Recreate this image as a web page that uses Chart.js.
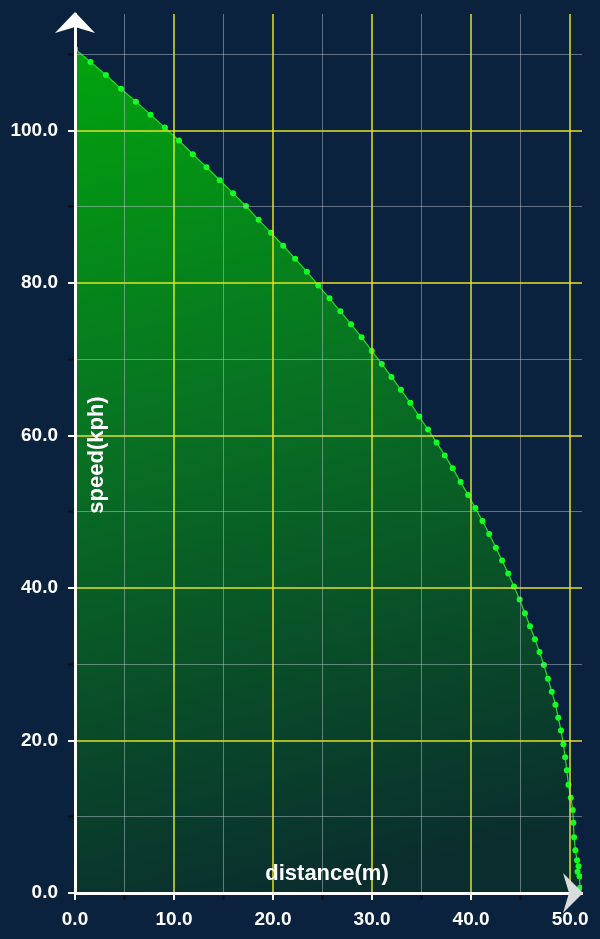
<!DOCTYPE html>
<html>
<head>
<meta charset="utf-8">
<script src="https://cdn.jsdelivr.net/npm/chart.js@4/dist/chart.umd.min.js"></script>
<style>
body{margin:0;background:#0b223f;}
canvas{display:block;}
</style>
</head>
<body>
<canvas id="chart" width="600" height="939"></canvas>
<script>
// speed vs braking distance
const distance = [0, 1.57, 3.12, 4.65, 6.15, 7.63, 9.08, 10.50, 11.90, 13.28, 14.63, 15.96, 17.27, 18.54, 19.80, 21.03, 22.23, 23.41, 24.57, 25.70, 26.80, 27.88, 28.94, 29.97, 30.98, 31.96, 32.92, 33.86, 34.76, 35.65, 36.51, 37.34, 38.15, 38.94, 39.70, 40.43, 41.15, 41.83, 42.50, 43.13, 43.75, 44.33, 44.90, 45.44, 45.95, 46.44, 46.91, 47.35, 47.76, 48.15, 48.52, 48.80, 49.08, 49.32, 49.50, 49.67, 49.83, 50.07, 50.27, 50.33, 50.40, 50.53, 50.70, 50.85, 50.75, 50.95, 51.0];
const speed = [110.7, 109.0, 107.3, 105.5, 103.8, 102.1, 100.4, 98.7, 96.9, 95.2, 93.5, 91.8, 90.1, 88.3, 86.6, 84.9, 83.2, 81.5, 79.7, 78.0, 76.3, 74.6, 72.9, 71.1, 69.4, 67.7, 66.0, 64.3, 62.5, 60.8, 59.1, 57.4, 55.7, 53.9, 52.2, 50.5, 48.8, 47.1, 45.3, 43.6, 41.9, 40.2, 38.5, 36.7, 35.0, 33.3, 31.6, 29.9, 28.1, 26.4, 24.7, 23.0, 21.3, 19.5, 17.8, 16.1, 14.2, 12.5, 10.9, 9.2, 7.3, 5.6, 4.3, 3.5, 2.8, 2.2, 0.7];

const xTickValues = [0, 5, 10, 15, 20, 25, 30, 35, 40, 45, 50];
const xMajorTicks = [0, 10, 20, 30, 40, 50];
const yTickValues = [0, 10, 20, 30, 40, 50, 60, 70, 80, 90, 100, 110];
const yMajorTicks = [0, 20, 40, 60, 80, 100];
const xTitle = "distance(m)";
const yTitle = "speed(kph)";

const font = "'Liberation Sans', Arial, Helvetica, sans-serif";
const yellow = "rgba(225,225,40,0.75)";
const minor = "rgba(200,210,220,0.45)";

const points = distance.map((d,i)=>({x:d, y:speed[i]}));

const arrows = {
  id:"arrows",
  afterDraw(chart){
    const c = chart.ctx;
    const a = chart.chartArea;
    c.save();
    // y arrow
    c.fillStyle = "#ffffff";
    c.beginPath();
    c.moveTo(a.left, a.top-2);
    c.lineTo(a.left+20, a.top+19);
    c.lineTo(a.left, a.top+13);
    c.lineTo(a.left-20, a.top+19);
    c.closePath();
    c.fill();
    // x arrow
    c.fillStyle = "#d8dcdc";
    c.beginPath();
    c.moveTo(a.right+1, a.bottom);
    c.lineTo(a.right-19, a.bottom-20);
    c.lineTo(a.right-13, a.bottom);
    c.lineTo(a.right-19, a.bottom+20);
    c.closePath();
    c.fill();
    // titles
    c.fillStyle = "#ffffff";
    c.font = "bold 22px " + font;
    c.textAlign = "center";
    c.textBaseline = "middle";
    c.fillText(xTitle, a.left+252, a.bottom-19);
    c.translate(a.left+22, a.top+441);
    c.rotate(-Math.PI/2);
    c.fillText(yTitle, 0, 0);
    c.restore();
  }
};

new Chart(document.getElementById("chart"),{
  type:"line",
  data:{
    datasets:[{
      data:points,
      borderColor:"#22dd22",
      borderWidth:1.2,
      pointRadius:3,
      pointBackgroundColor:"#11ff22",
      pointBorderWidth:0,
      fill:"origin",
      backgroundColor:(ctx)=>{
        const a = ctx.chart.chartArea;
        if(!a) return "rgba(0,160,0,0.8)";
        const g = ctx.chart.ctx.createLinearGradient(a.left, a.top, a.left+(a.right-a.left)*0.45, a.bottom);
        g.addColorStop(0, "#00a80c");
        g.addColorStop(0.45, "#087322");
        g.addColorStop(1, "#0a2e2e");
        return g;
      },
      tension:0
    }]
  },
  options:{
    responsive:false,
    animation:false,
    layout:{padding:{top:14, right:18, left:0, bottom:0}},
    plugins:{legend:{display:false}, tooltip:{enabled:false}},
    scales:{
      x:{
        type:"linear",
        min:0, max:51.2,
        afterBuildTicks:(s)=>{ s.ticks = xTickValues.map(v=>({value:v})); },
        afterFit:(s)=>{ s.height = 46; s.paddingLeft = 0; s.paddingRight = 0; },
        border:{color:"#ffffff", width:3, z:2},
        grid:{
          z:1,
          color:(c)=> c.tick.value===0 ? "rgba(0,0,0,0)" : (xMajorTicks.includes(c.tick.value) ? yellow : minor),
          lineWidth:(c)=> xMajorTicks.includes(c.tick.value) ? 2 : 1,
          tickColor:(c)=> xMajorTicks.includes(c.tick.value) ? "#ffffff" : "#0a0f18",
          tickLength:7,
          tickWidth:2
        },
        ticks:{
          color:"#ffffff",
          padding:8,
          maxRotation:0,
          autoSkip:false,
          font:{family:font, size:19, weight:"bold"},
          callback:(v)=> xMajorTicks.includes(v) ? v.toFixed(1) : ""
        }
      },
      y:{
        min:0, max:115.3,
        afterBuildTicks:(s)=>{ s.ticks = yTickValues.map(v=>({value:v})); },
        afterFit:(s)=>{ s.width = 75; s.paddingTop = 0; s.paddingBottom = 0; },
        border:{color:"#ffffff", width:3, z:2},
        grid:{
          z:1,
          color:(c)=> c.tick.value===0 ? "rgba(0,0,0,0)" : (yMajorTicks.includes(c.tick.value) ? yellow : minor),
          lineWidth:(c)=> yMajorTicks.includes(c.tick.value) ? 2 : 1,
          tickColor:(c)=> yMajorTicks.includes(c.tick.value) ? "#ffffff" : "#0a0f18",
          tickLength:7,
          tickWidth:2
        },
        ticks:{
          color:"#ffffff",
          padding:10,
          autoSkip:false,
          font:{family:font, size:19, weight:"bold"},
          callback:(v)=> yMajorTicks.includes(v) ? v.toFixed(1) : ""
        }
      }
    }
  },
  plugins:[arrows]
});
</script>
</body>
</html>
